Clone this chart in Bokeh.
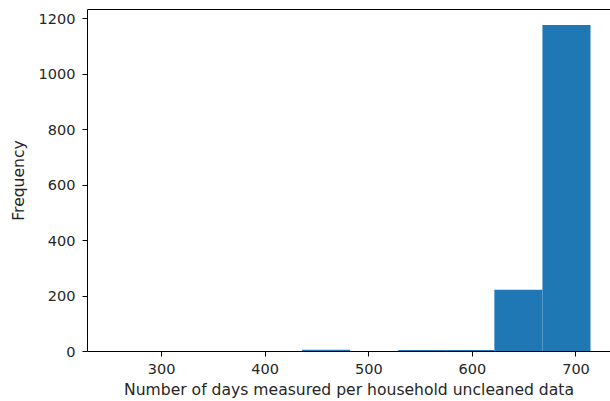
from bokeh.plotting import figure
from bokeh.models import Range1d, FixedTicker, ColumnDataSource, LinearAxis
from bokeh.embed import file_html
from bokeh.resources import INLINE

bin_edges = [250.0, 296.4, 342.8, 389.2, 435.6, 482.0, 528.4, 574.8, 621.2, 667.6, 714.0]
counts = [1, 0, 0, 0, 6, 0, 5, 5, 223, 1177]
x_ticks = [300, 400, 500, 600, 700]
y_ticks = [0, 200, 400, 600, 800, 1000, 1200]

src = ColumnDataSource(dict(left=bin_edges[:-1], right=bin_edges[1:],
                            top=counts, bottom=[0] * len(counts)))

p = figure(width=610, height=401, output_backend="svg", toolbar_location=None,
           x_range=Range1d(228.5, 733.3), y_range=Range1d(0, 1233),
           min_border_left=87, min_border_right=0, min_border_top=9, min_border_bottom=50)
p.quad(left="left", right="right", top="top", bottom="bottom", source=src,
       fill_color="#1f77b4", line_color=None)

p.xgrid.visible = False
p.ygrid.visible = False
p.outline_line_color = None
p.background_fill_color = "white"

xax = p.below[0]
yax = p.left[0]

font = "DejaVu Sans"
for ax in (xax, yax):
    ax.axis_line_color = "black"
    ax.major_tick_line_color = "black"
    ax.major_tick_out = 5
    ax.major_tick_in = 0
    ax.minor_tick_line_color = None
    ax.major_label_text_font = font
    ax.major_label_text_font_size = "14.5px"
    ax.major_label_text_color = "#262626"
    ax.axis_label_text_font = font
    ax.axis_label_text_font_size = "15.6px"
    ax.axis_label_text_font_style = "normal"
    ax.axis_label_text_color = "#262626"

xax.ticker = FixedTicker(ticks=x_ticks)
yax.ticker = FixedTicker(ticks=y_ticks)
xax.axis_label = "Number of days measured per household uncleaned data"
yax.axis_label = "Frequency"
xax.major_label_standoff = 7
yax.major_label_standoff = 7
xax.axis_label_standoff = 4
yax.axis_label_standoff = 8

top_axis = LinearAxis(ticker=FixedTicker(ticks=[]), major_label_text_font_size="0px",
                      major_tick_line_color=None, minor_tick_line_color=None,
                      axis_line_color="black", major_label_standoff=0)
p.add_layout(top_axis, "above")

open("out.html", "w").write(file_html(p, INLINE))
